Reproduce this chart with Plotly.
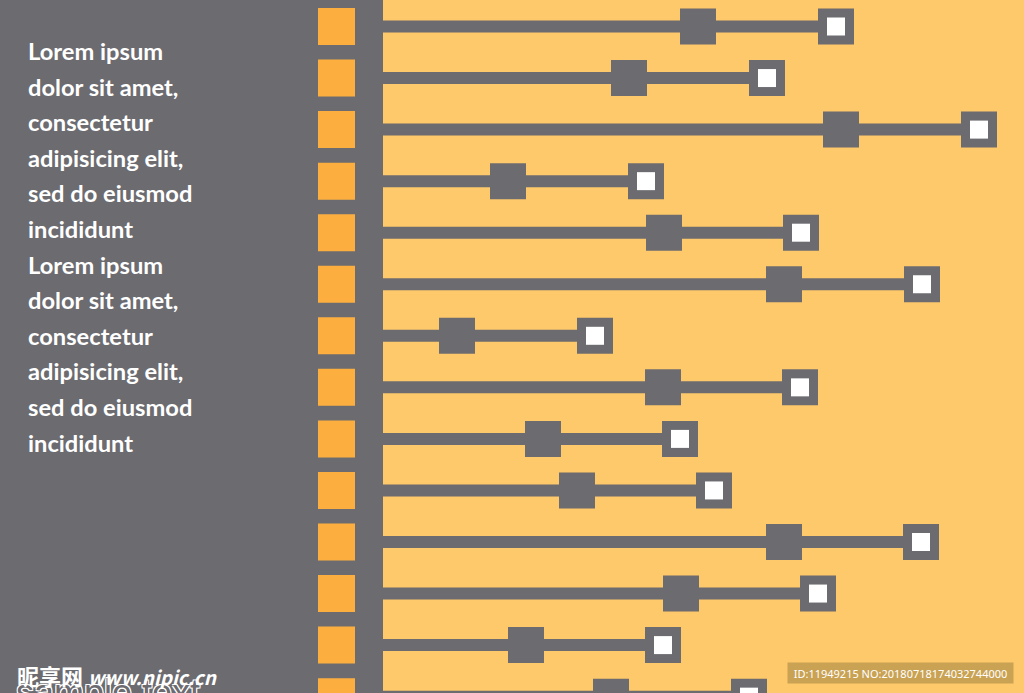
import plotly.graph_objects as go

# ---- data ----
rows = list(range(14))
mid_values = [698, 629, 841, 508, 664, 784, 457, 663, 543, 577, 784, 681, 526, 611]
end_values = [836, 767, 979, 646, 801, 922, 595, 800, 680, 714, 921, 818, 663, 749]
text_lines = ["Lorem ipsum", "dolor sit amet,", "consectetur", "adipisicing elit,",
              "sed do eiusmod", "incididunt"] * 2

# ---- style ----
GRAY = "#6C6B70"
YELLOW = "#FEC96A"
ORANGE = "#FCAF3F"
LINE_START = 383
BULLET_X = 336.5
ROW_PX = 51.55
FIRST_PX = 26.5
W, H = 1024, 693

y_top = -FIRST_PX / ROW_PX
y_bot = (H - FIRST_PX) / ROW_PX

fig = go.Figure()

# connector lines
lx, ly = [], []
for r, e in zip(rows, end_values):
    lx += [LINE_START, e, None]
    ly += [r, r, None]
fig.add_trace(go.Scatter(x=lx, y=ly, mode="lines",
                         line=dict(color=GRAY, width=12), hoverinfo="skip"))
# orange bullets
fig.add_trace(go.Scatter(x=[BULLET_X] * len(rows), y=rows, mode="markers",
                         marker=dict(symbol="square", size=37, color=ORANGE,
                                     line=dict(width=0))))
# mid markers
fig.add_trace(go.Scatter(x=mid_values, y=rows, mode="markers",
                         marker=dict(symbol="square", size=36, color=GRAY,
                                     line=dict(width=0))))
# end markers
fig.add_trace(go.Scatter(x=end_values, y=rows, mode="markers",
                         marker=dict(symbol="square", size=36, color=GRAY,
                                     line=dict(width=0))))
fig.add_trace(go.Scatter(x=end_values, y=rows, mode="markers",
                         marker=dict(symbol="square", size=18, color="white",
                                     line=dict(width=0))))

annotations = []
for i, t in enumerate(text_lines):
    py = 51 + i * 35.6
    annotations.append(dict(text=t, x=26 / W, y=1 - py / H, xref="paper", yref="paper",
                            xanchor="left", yanchor="middle", showarrow=False,
                            font=dict(family="Lato, sans-serif",
                                      size=23.7, color="white", weight="bold")))
annotations.append(dict(text="sample text", x=14 / W, y=1 - 692 / H, xref="paper", yref="paper",
                        xanchor="left", yanchor="middle", showarrow=False,
                        font=dict(family="Liberation Sans, sans-serif", size=36, color=GRAY,
                                  shadow="1px 1px 0 #fff, -1px -1px 0 #fff, 1px -1px 0 #fff, -1px 1px 0 #fff")))
annotations.append(dict(text="<b>昵享网</b> <b><i><span style='font-size:19px'>www.nipic.cn</span></i></b>",
                        x=15 / W, y=1 - 675 / H,
                        xref="paper", yref="paper", xanchor="left", yanchor="middle",
                        showarrow=False,
                        font=dict(family="Noto Sans CJK SC, sans-serif", size=22, color="white")))
annotations.append(dict(text="ID:11949215 NO:20180718174032744000", x=900.5 / W, y=1 - 673 / H,
                        xref="paper", yref="paper", xanchor="center", yanchor="middle",
                        showarrow=False, bgcolor="#C9A253", borderpad=2, width=221, height=16,
                        font=dict(family="Noto Sans, sans-serif", size=11, color="white")))

fig.update_layout(
    width=W, height=H, margin=dict(l=0, r=0, t=0, b=0),
    paper_bgcolor=YELLOW, plot_bgcolor=YELLOW, showlegend=False,
    xaxis=dict(range=[0, W], visible=False, fixedrange=True),
    yaxis=dict(range=[y_bot, y_top], visible=False, fixedrange=True),
    shapes=[dict(type="rect", xref="x", yref="paper", x0=0, x1=LINE_START, y0=0, y1=1,
                 fillcolor=GRAY, line=dict(width=0), layer="below")],
    annotations=annotations,
)

fig.write_html("out.html", config={"displayModeBar": False},
               post_script="document.body.style.margin='0';")
